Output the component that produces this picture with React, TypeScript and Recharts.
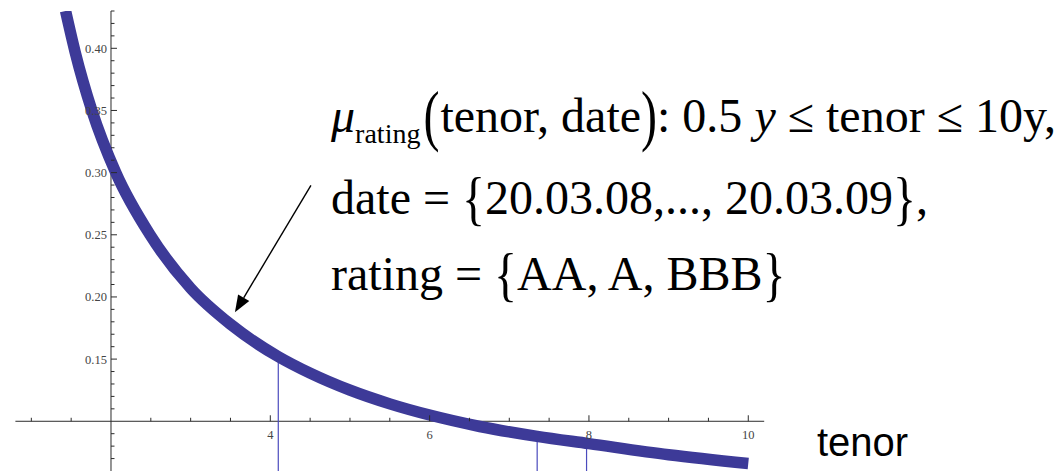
import React from 'react';
import { ComposedChart, Line, XAxis, YAxis, ReferenceLine, ReferenceDot } from 'recharts';

// curve mu(tenor)
const tenors = [1.43, 1.55, 1.76, 2.06, 2.49, 3.0, 3.5, 4.1, 4.5, 5.0, 5.5, 6.0, 6.63, 7.35, 8.0, 9.0, 10.0];
const muValues = [0.43, 0.397, 0.35, 0.3, 0.25, 0.207, 0.178, 0.152, 0.1387, 0.125, 0.114, 0.105, 0.0958, 0.0878, 0.082, 0.0731, 0.066];

// thin vertical marker lines
const markerTenors = [4.1, 7.35, 7.97];
const markerValues = [0.148, 0.0835, 0.0783];

// axes
const xDomain = [0.8, 10.2];
const yDomain = [0.06, 0.43];
const axisCrossX = 2;
const axisCrossY = 0.1;
const xMajorTicks = [4, 6, 8, 10];
const xMajorLabels = ['4', '6', '8', '10'];
const xMinorTicks = [1, 1.5, 2.5, 3, 3.5, 4.5, 5, 5.5, 6.5, 7, 7.5, 8.5, 9, 9.5];
const yMajorTicks = [0.15, 0.2, 0.25, 0.3, 0.35, 0.4];
const yMajorLabels = ['0.15', '0.20', '0.25', '0.30', '0.35', '0.40'];
const yMinorTicks = [0.07, 0.08, 0.09, 0.11, 0.12, 0.13, 0.14, 0.16, 0.17, 0.18, 0.19, 0.21, 0.22, 0.23, 0.24, 0.26, 0.27, 0.28, 0.29, 0.31, 0.32, 0.33, 0.34, 0.36, 0.37, 0.38, 0.39, 0.41, 0.42, 0.43];

// annotation arrow (tail -> tip) in data units
const arrowTail = { x: 4.51, y: 0.2897 };
const arrowTip = { x: 3.556, y: 0.1876 };

const data = tenors.map((t, i) => ({ tenor: t, mu: muValues[i] }));

const AXIS = '#2b2b2b';
const CURVE = '#3d3a98';
const MARKER = '#4b4bbd';
const tickFont = '"Liberation Serif", "Times New Roman", serif';

const xTickShape = (len: number, label?: string) => (p: any) => (
  <g>
    <line x1={p.cx} x2={p.cx} y1={p.cy} y2={p.cy - len} stroke={AXIS} strokeWidth={1} />
    {label ? (
      <text x={p.cx} y={p.cy + 18} textAnchor="middle" fontFamily={tickFont} fontSize={12.5} fill="#444">
        {label}
      </text>
    ) : null}
  </g>
);

const yTickShape = (len: number, label?: string) => (p: any) => (
  <g>
    <line x1={p.cx} x2={p.cx + len} y1={p.cy} y2={p.cy} stroke={AXIS} strokeWidth={1} />
    {label ? (
      <text x={p.cx - 4} y={p.cy + 4.5} textAnchor="end" fontFamily={tickFont} fontSize={12.5} fill="#444">
        {label}
      </text>
    ) : null}
  </g>
);

const ArrowShape = (p: any) => {
  const { x1, y1, x2, y2 } = p;
  const dx = x2 - x1;
  const dy = y2 - y1;
  const L = Math.sqrt(dx * dx + dy * dy) || 1;
  const ux = dx / L;
  const uy = dy / L;
  const headLen = 17;
  const headHalf = 6.5;
  const bx = x2 - ux * headLen;
  const by = y2 - uy * headLen;
  const pts = `${x2},${y2} ${bx - uy * headHalf},${by + ux * headHalf} ${bx + uy * headHalf},${by - ux * headHalf}`;
  return (
    <g>
      <line x1={x1} y1={y1} x2={bx} y2={by} stroke="#000" strokeWidth={1.4} />
      <polygon points={pts} fill="#000" />
    </g>
  );
};

const serif = '"Liberation Serif", "Times New Roman", serif';
const tall = (s: number) => ({ display: 'inline-block', transform: `scale(1, ${s})` } as React.CSSProperties);

export default function App() {
  return (
    <div style={{ position: 'absolute', left: 0, top: 0, width: 1064, height: 471, background: '#fff', overflow: 'hidden' }}>
      <ComposedChart
        width={1064}
        height={471}
        data={data}
        margin={{ top: 11, right: 299.8, bottom: 0, left: 15.4 }}
      >
        <XAxis dataKey="tenor" type="number" domain={xDomain} allowDataOverflow hide />
        <YAxis type="number" domain={yDomain} allowDataOverflow hide />

        {/* axis lines crossing at (2, 0.10) */}
        <ReferenceLine
          segment={[{ x: xDomain[0], y: axisCrossY }, { x: xDomain[1], y: axisCrossY }]}
          stroke={AXIS}
          strokeWidth={1}
        />
        <ReferenceLine
          segment={[{ x: axisCrossX, y: yDomain[0] }, { x: axisCrossX, y: yDomain[1] }]}
          stroke={AXIS}
          strokeWidth={1}
        />

        {xMinorTicks.map((t) => (
          <ReferenceDot key={'xm' + t} x={t} y={axisCrossY} r={1} shape={xTickShape(3.5)} />
        ))}
        {xMajorTicks.map((t, i) => (
          <ReferenceDot key={'xM' + t} x={t} y={axisCrossY} r={1} shape={xTickShape(6, xMajorLabels[i])} />
        ))}
        {yMinorTicks.map((t) => (
          <ReferenceDot key={'ym' + t} x={axisCrossX} y={t} r={1} shape={yTickShape(3.5)} />
        ))}
        {yMajorTicks.map((t, i) => (
          <ReferenceDot key={'yM' + t} x={axisCrossX} y={t} r={1} shape={yTickShape(6, yMajorLabels[i])} />
        ))}

        {markerTenors.map((t, i) => (
          <ReferenceLine
            key={'mk' + t}
            segment={[{ x: t, y: markerValues[i] }, { x: t, y: yDomain[0] }]}
            stroke={MARKER}
            strokeWidth={1.2}
          />
        ))}

        <Line
          dataKey="mu"
          type="monotone"
          stroke={CURVE}
          strokeWidth={11.5}
          strokeLinecap="butt"
          dot={false}
          activeDot={false}
          isAnimationActive={false}
        />

        <ReferenceLine segment={[arrowTail, arrowTip]} shape={ArrowShape} />
      </ComposedChart>

      {/* annotation text */}
      <div style={{ position: 'absolute', left: 331, top: 92, fontFamily: serif, fontSize: 48, lineHeight: '48px', whiteSpace: 'nowrap', color: '#000' }}>
        <span style={{ fontStyle: 'italic' }}>μ</span>
        <span style={{ fontSize: 28, position: 'relative', top: 11 }}>rating</span>
        <span style={{ ...tall(1.4), margin: '0 1px 0 3px' }}>(</span>
        tenor, date
        <span style={tall(1.4)}>)</span>
        : 0.5 <span style={{ fontStyle: 'italic' }}>y</span> ≤ tenor ≤ 10y,
      </div>
      <div style={{ position: 'absolute', left: 331, top: 174, fontFamily: serif, fontSize: 48, lineHeight: '48px', whiteSpace: 'nowrap', color: '#000' }}>
        date = <span style={tall(1.25)}>{'{'}</span>20.03.08,..., 20.03.09<span style={tall(1.25)}>{'}'}</span>,
      </div>
      <div style={{ position: 'absolute', left: 331, top: 250, fontFamily: serif, fontSize: 48, lineHeight: '48px', whiteSpace: 'nowrap', color: '#000' }}>
        rating = <span style={tall(1.25)}>{'{'}</span>AA, A, BBB<span style={tall(1.25)}>{'}'}</span>
      </div>
      <div style={{ position: 'absolute', left: 817, top: 422, fontFamily: '"Liberation Sans", Arial, sans-serif', fontSize: 40, lineHeight: '40px', whiteSpace: 'nowrap', color: '#000' }}>
        tenor
      </div>
    </div>
  );
}
